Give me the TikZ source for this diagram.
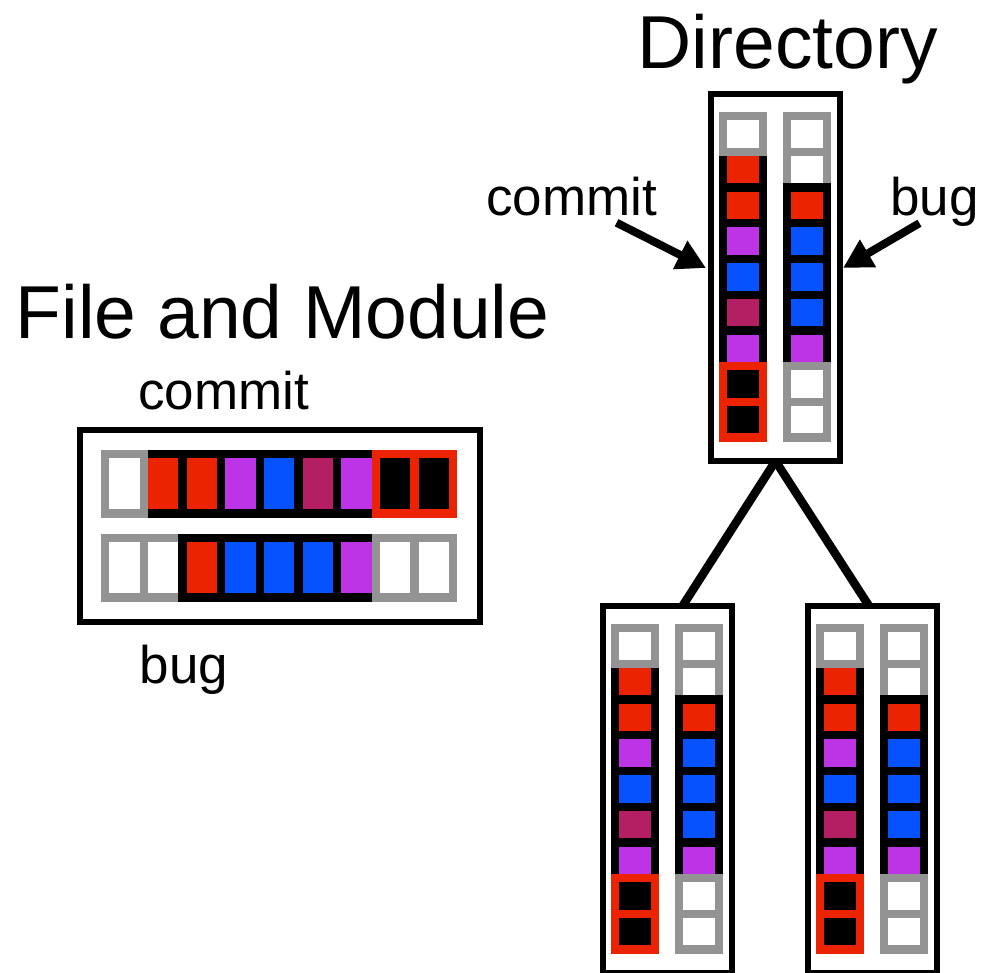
\documentclass[tikz,border=0pt]{standalone}
\usepackage{fontspec}
\setmainfont{Liberation Sans}
\usepackage{tikz}
\usetikzlibrary{arrows.meta, positioning}
\definecolor{cRed}{HTML}{EC2300}
\definecolor{cPurple}{HTML}{BC34E6}
\definecolor{cBlue}{HTML}{0652FF}
\definecolor{cPlum}{HTML}{B41F63}
\definecolor{cGrey}{HTML}{939393}

\begin{document}
\begin{tikzpicture}[
  x=1pt, y=-1pt,
  cell/.style={draw, line width=8.3pt, inner sep=0pt, outer sep=0pt},
  hcell/.style={cell, minimum width=38.7pt, minimum height=59.7pt},
  vcell/.style={cell, minimum width=40pt, minimum height=35.7pt},
  pad/.style={draw=cGrey, fill=white},
  hit/.style={draw=cRed, fill=black},
  val/.style={draw=black, fill=#1},
  panel/.style={draw, line width=6pt, inner sep=0pt, outer sep=0pt},
  title/.style={font=\fontsize{75}{75}\selectfont, inner sep=0pt, anchor=base west},
  tag/.style={font=\fontsize{53}{53}\selectfont, inner sep=0pt, anchor=base west},
  link/.style={line width=8.5pt},
  pointer/.style={line width=8pt, -{Triangle[length=29pt, width=30pt]}}
]
\fill[white] (0,0) rectangle (992,972);
\useasboundingbox (0,0) rectangle (992,972);

% file and module view
\node[title] (fmtitle) at (15.5,338.3) {File and Module};
\node[tag] (fmcommit) at (138,409) {commit};
\node[tag] (fmbug) at (139.6,683) {bug};
\node[panel, minimum width=400pt, minimum height=192pt, anchor=north west] (fm) at (80,430) {};
% commit row
\foreach \i/\c in {2/cRed, 3/cRed, 4/cPurple, 5/cBlue, 6/cPlum, 7/cPurple}
  \node[hcell, val=\c] (fm-c\i) at (105.2+\i*38.67-19.33, 483.5) {};
\node[hcell, pad] (fm-c1) at (105.2+19.33, 483.5) {};
\foreach \i in {8,9}
  \node[hcell, hit] (fm-c\i) at (105.2+\i*38.67-19.33, 483.5) {};
% bug row
\foreach \i in {1,2}
  \node[hcell, pad] (fm-b\i) at (105.2+\i*38.67-19.33, 567.5) {};
\foreach \i/\c in {3/cRed, 4/cBlue, 5/cBlue, 6/cBlue, 7/cPurple}
  \node[hcell, val=\c] (fm-b\i) at (105.2+\i*38.67-19.33, 567.5) {};
\foreach \i in {8,9}
  \node[hcell, pad] (fm-b\i) at (105.2+\i*38.67-19.33, 567.5) {};

% directory and its two children
\node[title] (dirtitle) at (637.5,68.3) {Directory};
\foreach \nm/\bx/\by in {dir/711/94, low1/603/606, low2/808/606} {
  \node[panel, minimum width=129pt, minimum height=367pt, anchor=north west] (\nm) at (\bx,\by) {};
  \foreach \i/\c in {2/cRed, 3/cRed, 4/cPurple, 5/cBlue, 6/cPlum, 7/cPurple}
    \node[vcell, val=\c] (\nm-c\i) at (\bx+32, \by+22.2+\i*35.7-17.85) {};
  \node[vcell, pad] (\nm-c1) at (\bx+32, \by+22.2+17.85) {};
  \foreach \i in {8,9}
    \node[vcell, hit] (\nm-c\i) at (\bx+32, \by+22.2+\i*35.7-17.85) {};
  \foreach \i in {1,2}
    \node[vcell, pad] (\nm-b\i) at (\bx+96, \by+22.2+\i*35.7-17.85) {};
  \foreach \i/\c in {3/cRed, 4/cBlue, 5/cBlue, 6/cBlue, 7/cPurple}
    \node[vcell, val=\c] (\nm-b\i) at (\bx+96, \by+22.2+\i*35.7-17.85) {};
  \foreach \i in {8,9}
    \node[vcell, pad] (\nm-b\i) at (\bx+96, \by+22.2+\i*35.7-17.85) {};
}
\draw[link] (dir.south) -- ([xshift=15pt]low1.north);
\draw[link] (dir.south) -- ([xshift=-3.5pt]low2.north);

% labels pointing at the directory
\node[tag] (dircommit) at (486,215) {commit};
\node[tag] (dirbug) at (890,215) {bug};
\coordinate (cin) at ([shift={(-5pt,-174pt)}]dir.north west);
\coordinate (bin) at ([shift={(3pt,-174pt)}]dir.north east);
\draw[pointer] ([shift={(45pt,-7pt)}]dircommit.south) -- (cin);
\draw[pointer] ([shift={(-15pt,3pt)}]dirbug.south) -- (bin);
\end{tikzpicture}
\end{document}
